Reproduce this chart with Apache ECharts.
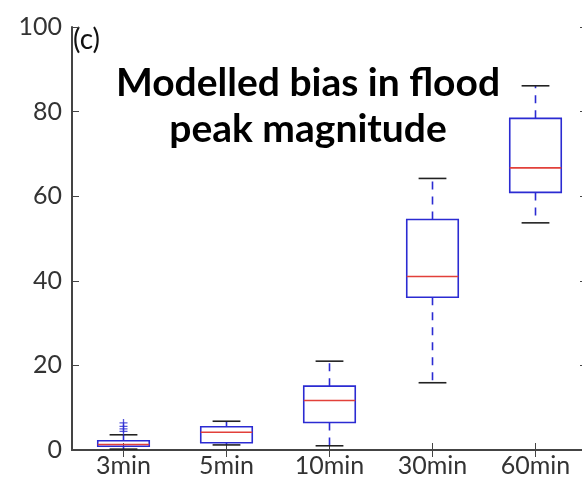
<!DOCTYPE html>
<html>
<head>
<meta charset="utf-8">
<script src="https://cdn.jsdelivr.net/npm/echarts@6/dist/echarts.min.js"></script>
<style>
  html, body { margin: 0; padding: 0; background: #fff; }
  #chart { width: 582px; height: 484px; }
</style>
</head>
<body>
<div id="chart"></div>
<script>
// box statistics, one entry per timestep
var categories = ['3min', '5min', '10min', '30min', '60min']
var whiskerLow = [0.2, 1.2, 1.0, 15.9, 53.7]
var q1 = [0.9, 1.7, 6.5, 36.1, 60.9]
var median = [1.3, 4.2, 11.7, 41.0, 66.7]
var q3 = [2.2, 5.5, 15.1, 54.5, 78.4]
var whiskerHigh = [3.6, 6.8, 21.0, 64.2, 86.1]
// outliers (category index, value)
var flierCat = [0, 0, 0, 0]
var flierVal = [4.4, 5.0, 5.6, 6.4]
var yTicks = [0, 20, 40, 60, 80, 100]

var blue = '#2b2bd2'
var red = '#e2403a'
var axisColor = '#444'
var labelFont = 'Lato, "Open Sans", sans-serif'

var boxData = categories.map(function (c, i) {
    return [i, whiskerLow[i], q1[i], median[i], q3[i], whiskerHigh[i]]
})
var flierData = flierVal.map(function (v, i) { return [flierCat[i], v] })

function renderBox (params, api) {
    var idx = api.value(0)
    var bw = api.size([1, 0])[0] * 0.5
    var cw = bw * 0.54
    var pLow = api.coord([idx, api.value(1)])
    var pQ1 = api.coord([idx, api.value(2)])
    var pMed = api.coord([idx, api.value(3)])
    var pQ3 = api.coord([idx, api.value(4)])
    var pHigh = api.coord([idx, api.value(5)])
    var x = pQ1[0]
    var dash = { stroke: blue, lineWidth: 1.6, lineDash: [8, 7], fill: null }
    return {
        type: 'group',
        children: [
            // whiskers
            { type: 'line', shape: { x1: x, y1: pQ3[1], x2: x, y2: pHigh[1] }, style: dash },
            { type: 'line', shape: { x1: x, y1: pQ1[1], x2: x, y2: pLow[1] }, style: dash },
            // caps
            { type: 'line', shape: { x1: x - cw / 2, y1: pHigh[1], x2: x + cw / 2, y2: pHigh[1] }, style: { stroke: '#222', lineWidth: 1.6 } },
            { type: 'line', shape: { x1: x - cw / 2, y1: pLow[1], x2: x + cw / 2, y2: pLow[1] }, style: { stroke: '#222', lineWidth: 1.6 } },
            // box
            { type: 'rect', shape: { x: x - bw / 2, y: pQ3[1], width: bw, height: pQ1[1] - pQ3[1] }, style: { stroke: blue, lineWidth: 1.6, fill: null } },
            // median
            { type: 'line', shape: { x1: x - bw / 2, y1: pMed[1], x2: x + bw / 2, y2: pMed[1] }, style: { stroke: red, lineWidth: 1.6 } }
        ]
    }
}

var chart = echarts.init(document.getElementById('chart'), null, { renderer: 'canvas' })

var tickStyle = { show: true, inside: true, length: 7, lineStyle: { color: axisColor, width: 1 } }

chart.setOption({
    animation: false,
    backgroundColor: '#fff',
    // plot area runs a little past the right edge of the picture
    grid: { left: 72, top: 27, width: 515, bottom: 34, containLabel: false, outerBoundsMode: 'none' },
    xAxis: [
        {
            type: 'category',
            data: categories,
            position: 'bottom',
            axisLine: { lineStyle: { color: axisColor, width: 2 } },
            axisTick: Object.assign({ alignWithLabel: true }, tickStyle),
            axisLabel: { color: '#333', fontSize: 25, fontFamily: labelFont, margin: 3 },
            splitLine: { show: false }
        },
        {
            type: 'category',
            data: categories,
            position: 'top',
            axisLine: { lineStyle: { color: axisColor, width: 2 } },
            axisTick: Object.assign({ alignWithLabel: true }, tickStyle),
            axisLabel: { show: false },
            splitLine: { show: false }
        }
    ],
    yAxis: [
        {
            type: 'value',
            min: yTicks[0],
            max: yTicks[yTicks.length - 1],
            interval: 20,
            position: 'left',
            axisLine: { show: true, lineStyle: { color: axisColor, width: 2 } },
            axisTick: tickStyle,
            axisLabel: { color: '#333', fontSize: 25, fontFamily: labelFont, margin: 10 },
            splitLine: { show: false }
        },
        {
            type: 'value',
            min: yTicks[0],
            max: yTicks[yTicks.length - 1],
            interval: 20,
            position: 'right',
            axisLine: { show: true, lineStyle: { color: axisColor, width: 2 } },
            axisTick: tickStyle,
            axisLabel: { show: false },
            splitLine: { show: false }
        }
    ],
    graphic: [
        {
            type: 'text',
            x: 73,
            y: 26,
            style: { text: '(c)', fontSize: 28, fontFamily: labelFont, fill: '#111' }
        },
        {
            type: 'text',
            x: 308,
            y: 60,
            style: {
                text: 'Modelled bias in flood\npeak magnitude',
                fontSize: 39,
                fontWeight: 'bold',
                fontFamily: labelFont,
                lineHeight: 46,
                align: 'center',
                fill: '#000'
            }
        }
    ],
    series: [
        {
            type: 'custom',
            renderItem: renderBox,
            data: boxData,
            encode: { x: 0, y: [1, 2, 3, 4, 5] },
            z: 3
        },
        {
            type: 'scatter',
            data: flierData,
            symbol: 'path://M5,0V10M0,5H10',
            symbolSize: 8,
            itemStyle: { color: 'none', borderColor: blue, borderWidth: 1.3 },
            z: 4
        }
    ]
})
</script>
</body>
</html>
